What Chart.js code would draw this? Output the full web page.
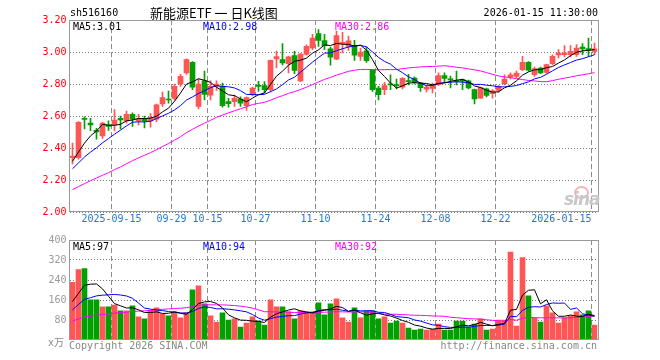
<!DOCTYPE html>
<html lang="zh-CN">
<head>
<meta charset="UTF-8">
<title>新能源ETF 日K线图</title>
<script src="https://cdn.jsdelivr.net/npm/chart.js"></script>
<style>
  body { margin: 0; background: #fff; }
  .wrap { position: relative; width: 660px; height: 360px; overflow: hidden;
          font-family: 'DejaVu Sans Mono', monospace; font-size: 10px; }
  canvas { position: absolute; left: 0; }
  #priceChart { top: 0; }
  #volChart { top: 230px; }
  .txt { position: absolute; white-space: nowrap; line-height: 12px; }
  .title { font-family: 'Noto Sans CJK SC', sans-serif; font-size: 13px; line-height: 16px; }
  .gray { color: #888; }
  .logo { position: absolute; left: 564px; top: 186px; width: 34px; height: 24px; }
  .logo span { position: absolute; left: 0; top: 3px; font: italic bold 17px 'DejaVu Sans', sans-serif;
               color: #c8c8c8; letter-spacing: -1px; }
  .logo i { position: absolute; left: 10px; top: 0; width: 11px; height: 9px; border-radius: 50%;
            border: 2px solid #f5b5b5; }
</style>
</head>
<body>
<div class="wrap">
  <canvas id="priceChart" width="660" height="232"></canvas>
  <canvas id="volChart" width="660" height="130"></canvas>

  <div class="txt" style="left:70px;top:7px;">sh516160</div>
  <div class="txt title" style="left:150px;top:5px;">新能源ETF 一 日K线图</div>
  <div class="txt" style="right:62px;top:7px;">2026-01-15 11:30:00</div>

  <div class="txt" style="left:73px;top:21px;color:#000;">MA5:3.01</div>
  <div class="txt" style="left:203px;top:21px;color:#0000ff;">MA10:2.98</div>
  <div class="txt" style="left:335px;top:21px;color:#ff00ff;">MA30:2.86</div>

  <div class="txt" style="left:73px;top:241px;color:#000;">MA5:97</div>
  <div class="txt" style="left:203px;top:241px;color:#0000ff;">MA10:94</div>
  <div class="txt" style="left:335px;top:241px;color:#ff00ff;">MA30:92</div>

  <div class="txt gray" style="left:48px;top:337px;">x万</div>
  <div class="txt gray" style="left:69px;top:340px;">Copyright 2026 SINA.COM</div>
  <div class="txt gray" style="right:63px;top:340px;">http://finance.sina.com.cn</div>

  <div class="logo"><i></i><span>sina</span></div>
</div>

<script>
  const dates = [
    '2025-09-04', '2025-09-05', '2025-09-08', '2025-09-09', '2025-09-10', '2025-09-11', '2025-09-12',
    '2025-09-15', '2025-09-16', '2025-09-17', '2025-09-18', '2025-09-19', '2025-09-22', '2025-09-23',
    '2025-09-24', '2025-09-25', '2025-09-26', '2025-09-29', '2025-09-30', '2025-10-09', '2025-10-10',
    '2025-10-13', '2025-10-14', '2025-10-15', '2025-10-16', '2025-10-17', '2025-10-20', '2025-10-21',
    '2025-10-22', '2025-10-23', '2025-10-24', '2025-10-27', '2025-10-28', '2025-10-29', '2025-10-30',
    '2025-10-31', '2025-11-03', '2025-11-04', '2025-11-05', '2025-11-06', '2025-11-07', '2025-11-10',
    '2025-11-11', '2025-11-12', '2025-11-13', '2025-11-14', '2025-11-17', '2025-11-18', '2025-11-19',
    '2025-11-20', '2025-11-21', '2025-11-24', '2025-11-25', '2025-11-26', '2025-11-27', '2025-11-28',
    '2025-12-01', '2025-12-02', '2025-12-03', '2025-12-04', '2025-12-05', '2025-12-08', '2025-12-09',
    '2025-12-10', '2025-12-11', '2025-12-12', '2025-12-15', '2025-12-16', '2025-12-17', '2025-12-18',
    '2025-12-19', '2025-12-22', '2025-12-23', '2025-12-24', '2025-12-25', '2025-12-26', '2025-12-29',
    '2025-12-30', '2025-12-31', '2026-01-05', '2026-01-06', '2026-01-07', '2026-01-08', '2026-01-09',
    '2026-01-12', '2026-01-13', '2026-01-14', '2026-01-15'
  ];

  const opens = [
    2.34, 2.34, 2.585, 2.555, 2.51, 2.475, 2.545, 2.545, 2.585, 2.57,
    2.61, 2.57, 2.585, 2.57, 2.58, 2.675, 2.705, 2.71, 2.80, 2.87,
    2.935, 2.66, 2.82, 2.73, 2.785, 2.785, 2.69, 2.69, 2.705, 2.665,
    2.735, 2.79, 2.79, 2.765, 2.957, 2.952, 2.927, 2.977, 2.82, 2.985,
    3.025, 3.115, 3.072, 3.02, 2.955, 3.052, 3.035, 3.04, 2.973, 3.008,
    2.885, 2.775, 2.765, 2.80, 2.795, 2.78, 2.82, 2.837, 2.806, 2.768,
    2.772, 2.796, 2.852, 2.833, 2.82, 2.827, 2.82, 2.765, 2.712, 2.77,
    2.74, 2.76, 2.802, 2.844, 2.848, 2.89, 2.935, 2.858, 2.90, 2.873,
    2.927, 2.981, 2.983, 2.983, 2.983, 3.031, 3.021, 3.004
  ];
  const highs = [
    2.43, 2.565, 2.595, 2.585, 2.523, 2.56, 2.57, 2.64, 2.60, 2.63,
    2.62, 2.61, 2.60, 2.615, 2.675, 2.75, 2.755, 2.80, 2.86, 2.958,
    2.94, 2.83, 2.88, 2.82, 2.82, 2.805, 2.71, 2.73, 2.72, 2.72,
    2.78, 2.817, 2.815, 2.95, 3.005, 3.052, 2.975, 3.004, 2.99, 3.045,
    3.11, 3.14, 3.11, 3.03, 3.13, 3.123, 3.10, 3.073, 3.025, 3.031,
    2.888, 2.785, 2.81, 2.858, 2.83, 2.84, 2.86, 2.845, 2.81, 2.795,
    2.805, 2.87, 2.87, 2.85, 2.88, 2.83, 2.825, 2.768, 2.78, 2.775,
    2.765, 2.79, 2.858, 2.87, 2.88, 2.973, 2.94, 2.905, 2.906, 2.925,
    2.983, 3.015, 3.04, 3.04, 3.046, 3.052, 3.087, 3.056
  ];
  const lows = [
    2.30, 2.33, 2.52, 2.508, 2.455, 2.46, 2.51, 2.506, 2.52, 2.555,
    2.535, 2.545, 2.525, 2.53, 2.565, 2.66, 2.68, 2.70, 2.785, 2.86,
    2.765, 2.645, 2.70, 2.70, 2.76, 2.655, 2.655, 2.66, 2.66, 2.635,
    2.725, 2.754, 2.745, 2.75, 2.90, 2.92, 2.87, 2.865, 2.815, 2.98,
    3.015, 3.035, 3.015, 2.917, 2.952, 2.994, 3.01, 2.948, 2.948, 2.935,
    2.754, 2.70, 2.733, 2.765, 2.77, 2.77, 2.795, 2.80, 2.754, 2.75,
    2.744, 2.79, 2.806, 2.775, 2.795, 2.765, 2.77, 2.675, 2.71, 2.72,
    2.712, 2.748, 2.795, 2.83, 2.837, 2.883, 2.88, 2.848, 2.865, 2.866,
    2.92, 2.963, 2.969, 2.969, 2.973, 2.983, 2.973, 2.983
  ];
  const closes = [
    2.35, 2.56, 2.578, 2.545, 2.50, 2.555, 2.535, 2.575, 2.575, 2.61,
    2.58, 2.583, 2.57, 2.59, 2.67, 2.715, 2.70, 2.785, 2.848, 2.952,
    2.78, 2.80, 2.735, 2.785, 2.80, 2.665, 2.677, 2.71, 2.68, 2.715,
    2.775, 2.785, 2.765, 2.948, 2.972, 2.932, 2.97, 2.885, 2.987, 3.035,
    3.087, 3.073, 3.04, 2.967, 3.102, 3.06, 3.07, 2.98, 3.00, 2.946,
    2.765, 2.733, 2.79, 2.795, 2.79, 2.835, 2.815, 2.81, 2.777, 2.78,
    2.792, 2.852, 2.835, 2.825, 2.815, 2.817, 2.775, 2.707, 2.778, 2.728,
    2.758, 2.785, 2.831, 2.858, 2.868, 2.935, 2.886, 2.896, 2.87, 2.921,
    2.973, 2.994, 2.994, 3.004, 3.025, 3.019, 3.01, 3.02
  ];
  // closes before the first visible day, only used to seed the moving averages
  const priorCloses = [
    2.00, 2.02, 1.99, 2.01, 2.03, 2.05, 2.02, 2.04, 2.03, 2.01,
    2.05, 2.08, 2.10, 2.12, 2.11, 2.14, 2.16, 2.20, 2.17, 2.17,
    2.19, 2.21, 2.24, 2.23, 2.245, 2.27, 2.30, 2.32, 2.345
  ];

  // volume, in 万
  const volumes = [
    231, 282, 286, 161, 161, 133, 133, 140, 117, 117,
    137, 93, 85, 119, 129, 105, 97, 113, 89, 110,
    201, 217, 145, 97, 72, 109, 80, 85, 52, 68,
    93, 76, 60, 161, 133, 133, 113, 85, 117, 113,
    113, 149, 101, 145, 165, 89, 72, 129, 89, 117,
    117, 85, 93, 68, 76, 68, 48, 40, 44, 40,
    44, 64, 40, 40, 76, 76, 52, 64, 85, 40,
    44, 80, 80, 352, 56, 330, 177, 89, 72, 137,
    109, 68, 89, 97, 113, 101, 117, 60
  ];
  const priorVolumes = [
    45, 50, 48, 55, 52, 60, 47, 50, 58, 62,
    49, 53, 57, 51, 55, 60, 52, 58, 54, 54,
    70, 82, 95, 88, 105, 118, 125, 140, 156
  ];

  const tickDates = ['2025-09-15', '2025-09-29', '2025-10-15', '2025-10-27', '2025-11-10',
                     '2025-11-24', '2025-12-08', '2025-12-22', '2026-01-15'];
  // the last label sits left of its line, as in the original
  const tickText = ['2025-09-15', '09-29', '10-15', '10-27', '11-10',
                    '11-24', '12-08', '12-22', '2026-01-15          '];
  const priceTicks = [2.00, 2.20, 2.40, 2.60, 2.80, 3.00, 3.20];
  const volumeTicks = [80, 160, 240, 320, 400];

  const RED = '#ff5555';
  const GREEN = '#00a000';
  const MONO = 'DejaVu Sans Mono';

  function movingAvg(values, prior, n) {
    const all = prior.concat(values);
    return values.map((_, i) => {
      const end = prior.length + i + 1;
      let sum = 0;
      for (let k = end - n; k < end; k++) sum += all[k];
      return sum / n;
    });
  }

  const colors = closes.map((c, i) => (c >= opens[i] ? RED : GREEN));

  const frame = {
    id: 'frame',
    afterDatasetsDraw(chart) {
      const { ctx, chartArea: a } = chart;
      ctx.save();
      ctx.strokeStyle = '#999';
      ctx.lineWidth = 1;
      ctx.strokeRect(Math.round(a.left) - 0.5, Math.round(a.top) + 0.5,
                     Math.round(a.right - a.left) + 1, Math.round(a.bottom - a.top) - 1);
      ctx.restore();
    }
  };

  // only the labelled dates get a tick; the value sits on the left edge of that day
  function xScale(showLabels) {
    return {
      offset: true,
      afterBuildTicks(scale) {
        scale.ticks = tickDates.map(d => ({ value: dates.indexOf(d) - 0.5 }));
      },
      grid: { offset: false, drawTicks: false, color: '#8c8c8c', lineWidth: 1 },
      border: { display: false, dash: [5, 3] },
      ticks: {
        display: showLabels,
        autoSkip: false,
        maxRotation: 0,
        padding: 1,
        color: '#1a7ad4',
        font: { family: MONO, size: 10 },
        callback(v) {
          const k = tickDates.indexOf(dates[Math.round(v + 0.5)]);
          return k < 0 ? '' : tickText[k];
        }
      },
      afterFit(scale) { scale.height = showLabels ? 20 : 0; }
    };
  }

  function yScale(min, max, ticks, color, fmt) {
    return {
      min, max,
      afterBuildTicks(scale) { scale.ticks = ticks.map(v => ({ value: v })); },
      grid: { drawTicks: false, color: '#7a7a7a', lineWidth: 1 },
      border: { display: false, dash: [1, 2] },
      ticks: { padding: 3, color, font: { family: MONO, size: 10 }, callback: fmt },
      afterFit(scale) { scale.width = 69.5; }
    };
  }

  function maLine(data, color) {
    return {
      type: 'line', data, borderColor: color, borderWidth: 1,
      pointRadius: 0, tension: 0, fill: false, order: 0
    };
  }

  new Chart(document.getElementById('priceChart'), {
    type: 'bar',
    data: {
      labels: dates,
      datasets: [
        maLine(movingAvg(closes, priorCloses, 5), '#000000'),
        maLine(movingAvg(closes, priorCloses, 10), '#0000ff'),
        maLine(movingAvg(closes, priorCloses, 30), '#ff00ff'),
        {
          data: opens.map((o, i) => [o, closes[i]]),
          backgroundColor: colors, barThickness: 5, minBarLength: 1,
          grouped: false, order: 1
        },
        {
          data: lows.map((l, i) => [l, highs[i]]),
          backgroundColor: colors, barThickness: 1,
          grouped: false, order: 2
        }
      ]
    },
    options: {
      responsive: false,
      animation: false,
      events: [],
      layout: { padding: { top: 20, right: 62.5, bottom: 0, left: 0 } },
      plugins: { legend: { display: false }, tooltip: { enabled: false } },
      scales: {
        x: xScale(true),
        y: yScale(2.0, 3.2, priceTicks, '#ff0000', v => v.toFixed(2))
      }
    },
    plugins: [frame]
  });

  new Chart(document.getElementById('volChart'), {
    type: 'bar',
    data: {
      labels: dates,
      datasets: [
        maLine(movingAvg(volumes, priorVolumes, 5), '#000000'),
        maLine(movingAvg(volumes, priorVolumes, 10), '#0000ff'),
        maLine(movingAvg(volumes, priorVolumes, 30), '#ff00ff'),
        {
          data: volumes, backgroundColor: colors, barThickness: 5,
          grouped: false, order: 1
        }
      ]
    },
    options: {
      responsive: false,
      animation: false,
      events: [],
      layout: { padding: { top: 10, right: 62.5, bottom: 20, left: 0 } },
      plugins: { legend: { display: false }, tooltip: { enabled: false } },
      scales: {
        x: xScale(false),
        y: yScale(0, 400, volumeTicks, '#999', v => String(v))
      }
    },
    plugins: [frame]
  });
</script>
</body>
</html>
